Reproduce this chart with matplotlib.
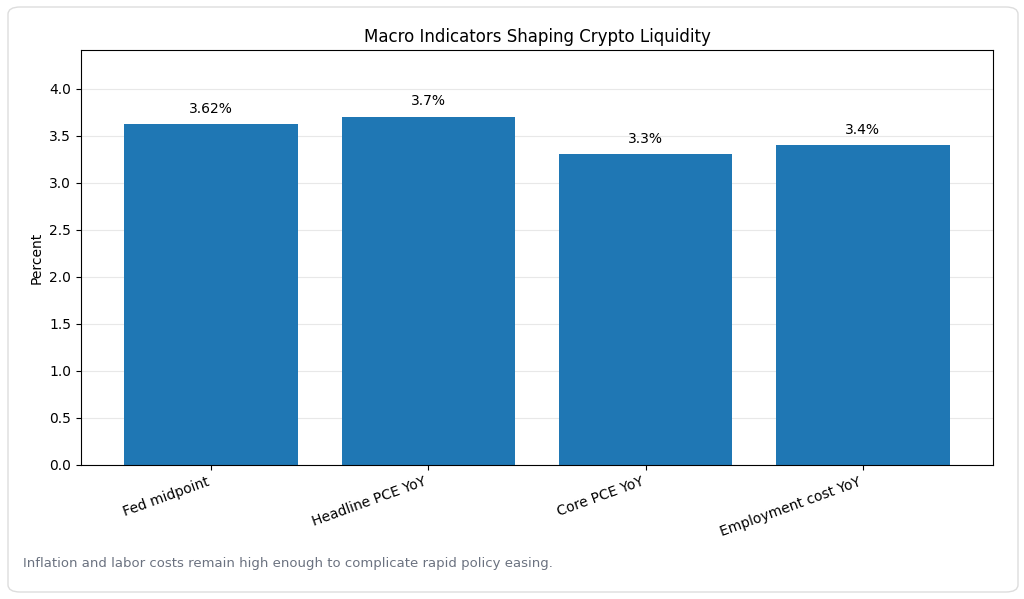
import matplotlib
matplotlib.use('agg')
from matplotlib import pyplot as plt
from matplotlib.patches import FancyBboxPatch

categories = ["Fed midpoint", "Headline PCE YoY", "Core PCE YoY", "Employment cost YoY"]
values = [3.62, 3.7, 3.3, 3.4]
value_labels = ["3.62%", "3.7%", "3.3%", "3.4%"]

fig = plt.figure(figsize=(10.24, 5.99), dpi=100)
fig.patch.set_facecolor("white")

# card border, kept behind the axes
card = FancyBboxPatch((8 / 1024, 7 / 599), 1010 / 1024, 585 / 599,
                      boxstyle="round,pad=0,rounding_size=0.012",
                      transform=fig.transFigure, facecolor="none",
                      edgecolor="#dddddd", linewidth=1, zorder=-10)
fig.patches.append(card)

ax = fig.add_axes([81 / 1024, 1 - 465 / 599, 912 / 1024, 415 / 599])
ax.bar(range(len(categories)), values, width=0.8, color="#1f77b4", zorder=2)
for i, (v, lab) in enumerate(zip(values, value_labels)):
    ax.annotate(lab, (i, v), xytext=(0, 6), textcoords="offset points",
                ha="center", va="bottom", fontsize=10)

ax.set_xlim(-0.6, 3.6)
ax.set_ylim(0, 4.41)
ax.set_yticks([0, 0.5, 1.0, 1.5, 2.0, 2.5, 3.0, 3.5, 4.0])
ax.set_xticks(range(len(categories)))
ax.set_xticklabels(categories, rotation=20, ha="right", fontsize=10)
ax.tick_params(axis="y", labelsize=10)
ax.set_ylabel("Percent", fontsize=10)
ax.set_title("Macro Indicators Shaping Crypto Liquidity", fontsize=12, pad=6)
ax.grid(axis="y", color="#e8e8e8", linewidth=0.8, zorder=0)
ax.set_axisbelow(True)

fig.text(23 / 1024, 1 - 564 / 599, "Inflation and labor costs remain high enough to complicate rapid policy easing.",
         fontsize=9.5, color="#6b7280", va="center", ha="left")

fig.savefig("out.png", dpi=100)
plt.close(fig)
